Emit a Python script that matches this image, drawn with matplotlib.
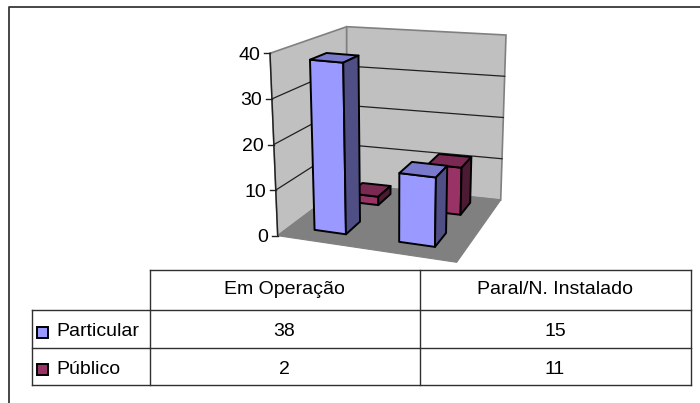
#!/usr/bin/env python3
"""Excel style 3D column chart with data table."""

import matplotlib
matplotlib.use("Agg")
import matplotlib.pyplot as plt
from matplotlib.patches import Polygon, Rectangle

plt.rcParams.update({
    "font.family": ["Liberation Sans", "DejaVu Sans"],
    "font.size": 14,
})

# ===== Data =====
categories = ["Em Operação", "Paral/N. Instalado"]
series_names = ["Particular", "Público"]
particular = [38, 15]
publico = [2, 11]
y_ticks = [0, 10, 20, 30, 40]

# Cube corners in pixels: (across, depth) -> floor and top
FLOOR = {(0, 0): (277.7, 235.7), (1, 0): (456.7, 262.3),
         (1, 1): (500.7, 200.0), (0, 1): (346.7, 184.0)}
TOP = {(0, 0): (270.0, 53.3), (1, 0): (461.0, 71.0),
       (1, 1): (506.0, 35.0), (0, 1): (346.7, 26.7)}
YMAX = 40

# Bar footprints in cube fractions
COL_SPAN = [(0.14, 0.32), (0.625, 0.83)]
ROW_SPAN = [(0.18, 0.41), (0.71, 0.91)]

BLUE = ("#9999FF", "#7A7ACC", "#4F4F85")
RED = ("#993366", "#7A2952", "#4D1A33")
WALL = "#C0C0C0"
FLOOR_C = "#808080"
EDGE = "#808080"


def bilinear(corners, u, v):
    out = []
    for i in range(2):
        out.append((1 - u) * (1 - v) * corners[(0, 0)][i]
                   + u * (1 - v) * corners[(1, 0)][i]
                   + u * v * corners[(1, 1)][i]
                   + (1 - u) * v * corners[(0, 1)][i])
    return out


def proj(u, v, val):
    """Cube fractions plus a data value -> pixel position."""
    lo = bilinear(FLOOR, u, v)
    hi = bilinear(TOP, u, v)
    t = val / YMAX
    return (lo[0] + (hi[0] - lo[0]) * t, lo[1] + (hi[1] - lo[1]) * t)


def draw_bar(ax, us, vs, val, colors, z):
    u0, u1 = us
    v0, v1 = vs
    front = [proj(u0, v0, 0), proj(u1, v0, 0), proj(u1, v0, val), proj(u0, v0, val)]
    top = [proj(u0, v0, val), proj(u1, v0, val), proj(u1, v1, val), proj(u0, v1, val)]
    side = [proj(u1, v0, 0), proj(u1, v1, 0), proj(u1, v1, val), proj(u1, v0, val)]
    for pts, c in zip((front, top, side), colors):
        ax.add_patch(Polygon(pts, closed=True, fc=c, ec="black", lw=1.4,
                             joinstyle="round", zorder=z))


fig = plt.figure(figsize=(7.0, 4.03), dpi=100)
ax = fig.add_axes([0, 0, 1, 1])
ax.set_xlim(0, 700)
ax.set_ylim(403, 0)
ax.axis("off")

# Outer frame, only top and left reach the crop
ax.plot([8.5, 8.5, 700], [403, 6.5, 6.5], color="#383838", lw=1.3, zorder=1)

# Walls and floor
left_wall = [proj(0, 0, 0), proj(0, 1, 0), proj(0, 1, YMAX), proj(0, 0, YMAX)]
back_wall = [proj(0, 1, 0), proj(1, 1, 0), proj(1, 1, YMAX), proj(0, 1, YMAX)]
floor = [proj(0, 0, 0), proj(1, 0, 0), proj(1, 1, 0), proj(0, 1, 0)]
ax.add_patch(Polygon(left_wall, fc=WALL, ec=EDGE, lw=1.2, zorder=2))
ax.add_patch(Polygon(back_wall, fc=WALL, ec=EDGE, lw=1.2, zorder=2))
ax.add_patch(Polygon(floor, fc=FLOOR_C, ec=FLOOR_C, lw=0.8, zorder=3))

# Gridlines, axis and tick labels
for t in y_ticks[1:-1]:
    a, b, c = proj(0, 0, t), proj(0, 1, t), proj(1, 1, t)
    ax.plot([a[0], b[0], c[0]], [a[1], b[1], c[1]], color="#202020", lw=0.9, zorder=4)
a, b = proj(0, 0, 0), proj(0, 0, YMAX)
ax.plot([a[0], b[0]], [a[1], b[1]], color="#202020", lw=1.0, zorder=4)
for t in y_ticks:
    p = proj(0, 0, t)
    ax.plot([p[0] - 6, p[0]], [p[1], p[1]], color="#202020", lw=1.0, zorder=4)
    ax.text(p[0] - 10, p[1], str(t), ha="right", va="center_baseline", color="black")

# Bars, back row first
for i, val in enumerate(publico):
    draw_bar(ax, COL_SPAN[i], ROW_SPAN[1], val, RED, 5 + i * 0.1)
for i, val in enumerate(particular):
    draw_bar(ax, COL_SPAN[i], ROW_SPAN[0], val, BLUE, 6 + i * 0.1)

# Data table
XS = [31.5, 149.5, 419.5, 690.5]
YS = [270.0, 309.5, 348.0, 384.5]
LINE = "#303030"
ax.plot([XS[1], XS[3]], [YS[0], YS[0]], color=LINE, lw=1.0)
for y in YS[1:]:
    ax.plot([XS[0], XS[3]], [y, y], color=LINE, lw=1.0)
ax.plot([XS[0], XS[0]], [YS[1], YS[3]], color=LINE, lw=1.0)
for x in XS[1:]:
    ax.plot([x, x], [YS[0], YS[3]], color=LINE, lw=1.0)

for j, cat in enumerate(categories):
    ax.text((XS[j + 1] + XS[j + 2]) / 2, 287.5, cat, ha="center", va="center_baseline")
ROW_TEXT_Y = [329.5, 367.0]
SWATCH_Y = [332.0, 369.5]
for r, (name, vals, col) in enumerate(zip(series_names, (particular, publico), (BLUE[0], RED[0]))):
    yc = ROW_TEXT_Y[r]
    ax.add_patch(Rectangle((36.5, SWATCH_Y[r] - 5.5), 11, 11, fc=col, ec="black", lw=1.4))
    ax.text(56.5, yc, name, ha="left", va="center_baseline")
    for j, v in enumerate(vals):
        ax.text((XS[j + 1] + XS[j + 2]) / 2, yc, str(v), ha="center", va="center_baseline")

fig.savefig("out.png", dpi=100)
